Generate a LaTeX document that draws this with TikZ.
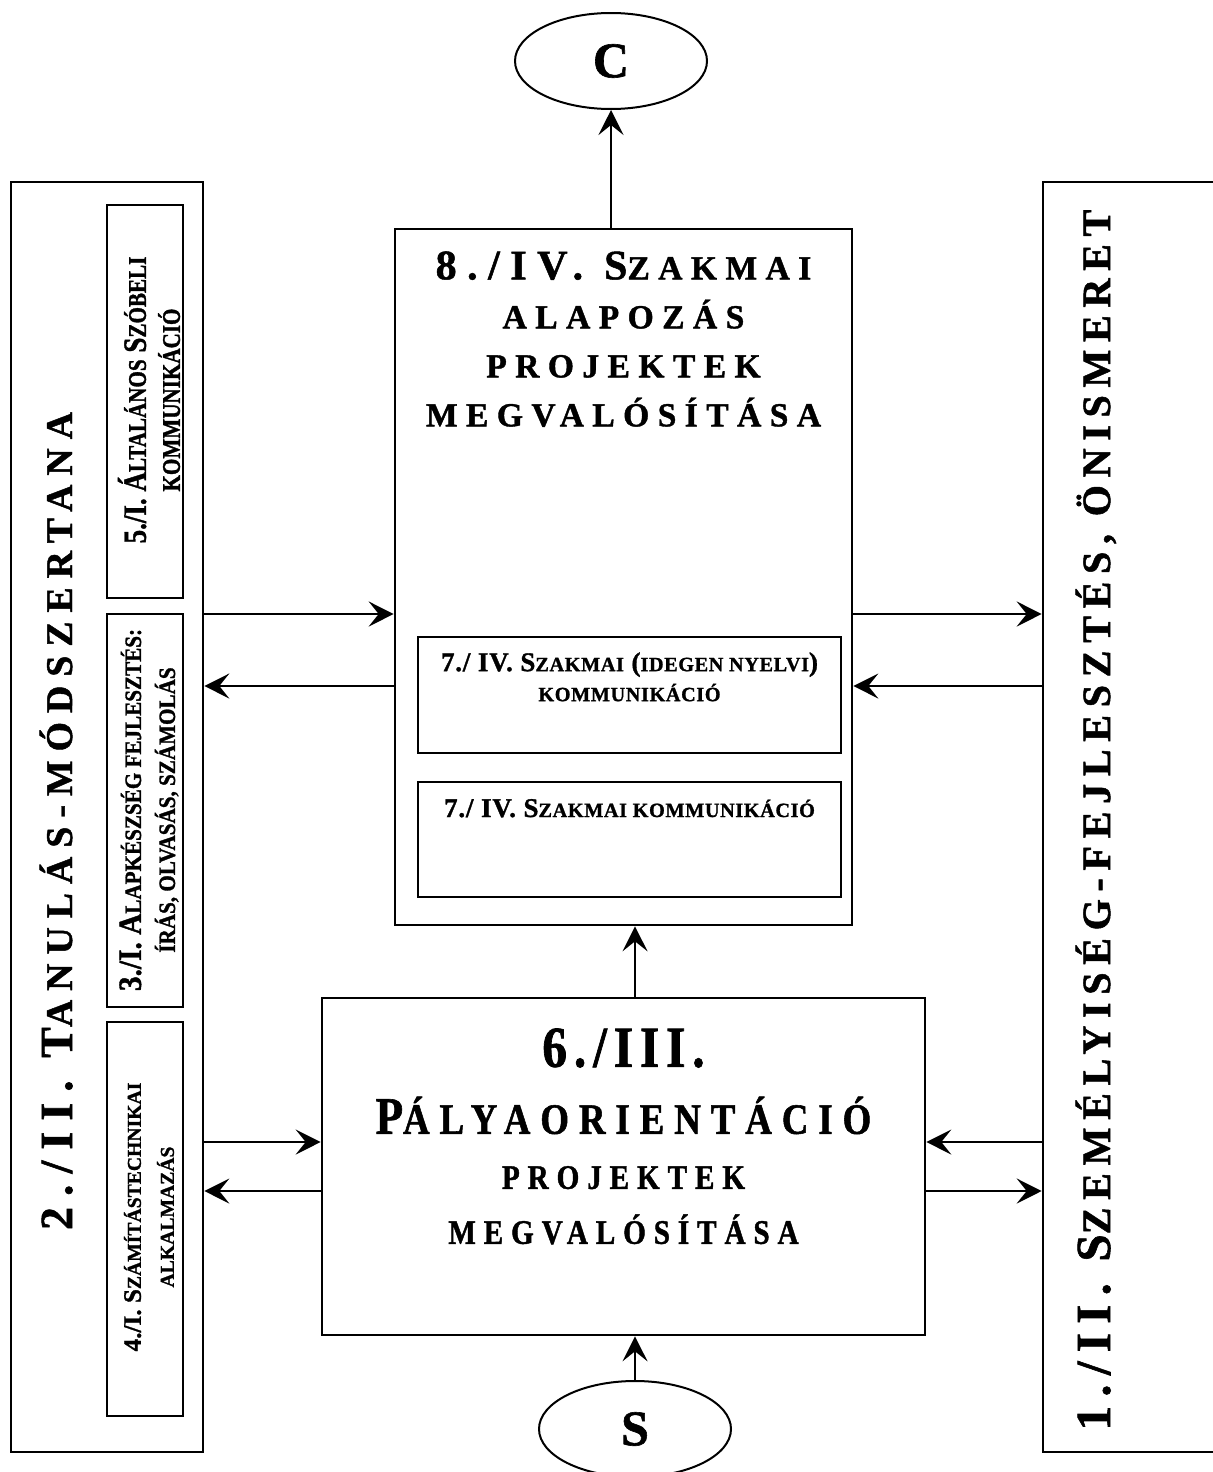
\documentclass[tikz,border=0pt]{standalone}
\usepackage{fontspec}
\setmainfont{Liberation Serif}[BoldFeatures={FakeBold=1.2}]
\usepackage{tikz}
\usetikzlibrary{arrows.meta,positioning,calc,shapes,fit}

\makeatletter
\newcommand{\kis}[2][0.8]{{\fontsize{\fpeval{#1*\f@size}}{\f@baselineskip}\selectfont #2}}
\makeatother

\begin{document}
\begin{tikzpicture}[x=0.5pt,y=-0.5pt,
  doboz/.style={draw,line width=1.3pt,inner sep=0pt},
  kisdoboz/.style={draw,line width=1pt,inner sep=0pt},
  kor/.style={draw,ellipse,line width=1pt,minimum width=96pt,minimum height=48pt,
    inner sep=0pt,font=\bfseries\fontsize{25}{30}\selectfont},
  nyil/.style={-{Stealth[length=12.5pt,width=12.5pt,inset=5pt]},line width=1.2pt},
  cimke/.style={inner sep=0pt,align=center}]

  \useasboundingbox (0,0) rectangle (1213,1472);

  % side columns
  \node[doboz,fit={(11,182) (203,1452)}] (bal) {};
  \node[doboz,fit={(1043,182) (1240,1452)}] (jobb) {};
  \node[cimke,rotate=90,anchor=base,
    font=\bfseries\addfontfeature{LetterSpace=24}\fontsize{23}{28}\selectfont]
    (balcim) at (72,821) {2./II. T\kis[0.82]{ANULÁS-MÓDSZERTANA}};
  \node[cimke,rotate=90,anchor=base,
    font=\bfseries\addfontfeature{LetterSpace=19}\fontsize{24.5}{28}\selectfont]
    (jobbcim) at (1110,820) {1./II. S\kis[0.82]{ZEMÉLYISÉG-FEJLESZTÉS, ÖNISMERET}};

  % boxes inside the left column
  \node[kisdoboz,fit={(107,205) (183,598)}] (ot) {};
  \node[kisdoboz,fit={(107,614) (183,1007)}] (harom) {};
  \node[kisdoboz,fit={(107,1022) (183,1416)}] (negy) {};
  \node[cimke,rotate=90,
    font=\bfseries\addfontfeature{FakeStretch=0.83}\fontsize{16.3}{17}\selectfont]
    (otcim) at (149,400) {5./I. Á\kis[0.78]{LTALÁNOS} S\kis[0.78]{ZÓBELI}\\ \kis[0.78]{KOMMUNIKÁCIÓ}};
  \node[cimke,rotate=90,
    font=\bfseries\addfontfeature{FakeStretch=0.9}\fontsize{16.3}{17}\selectfont]
    (haromcim) at (149,810) {3./I. A\kis[0.72]{LAPKÉSZSÉG FEJLESZTÉS:}\\ \kis[0.72]{ÍRÁS, OLVASÁS, SZÁMOLÁS}};
  \node[cimke,rotate=90,font=\bfseries\fontsize{12.6}{16.5}\selectfont]
    (negycim) at (149,1217) {4./I. S\kis[0.78]{ZÁMÍTÁSTECHNIKAI}\\ \kis[0.78]{ALKALMAZÁS}};

  % 8./IV. box
  \node[doboz,fit={(395,229) (852,925)}] (nyolc) {};
  \node[cimke,anchor=north,
    font=\bfseries\addfontfeature{LetterSpace=25}\fontsize{21}{24.5}\selectfont]
    (nyolccim) at (623.5,251) {8./IV. S\kis{ZAKMAI}\\ \kis{ALAPOZÁS}\\ \kis{PROJEKTEK}\\ \kis{MEGVALÓSÍTÁSA}};
  \node[doboz,fit={(418,637) (841,753)}] (het1) {};
  \node[cimke,anchor=north,
    font=\bfseries\addfontfeature{LetterSpace=3}\fontsize{13.5}{15}\selectfont]
    (het1cim) at (629.5,652) {7./ IV. S\kis[0.75]{ZAKMAI} (\kis[0.75]{IDEGEN NYELVI})\\ \kis[0.75]{KOMMUNIKÁCIÓ}};
  \node[doboz,fit={(418,782) (841,897)}] (het2) {};
  \node[cimke,anchor=base,
    font=\bfseries\addfontfeature{LetterSpace=3}\fontsize{13.5}{15}\selectfont]
    (het2cim) at (629.5,817) {7./ IV. S\kis[0.75]{ZAKMAI KOMMUNIKÁCIÓ}};

  % 6./III. box
  \node[doboz,fit={(322,998) (925,1335)}] (hat) {};
  \node[cimke,anchor=north,
    font=\bfseries\addfontfeatures{FakeStretch=0.85,LetterSpace=23}\fontsize{26.4}{27.5}\selectfont]
    (hatcim) at (623.5,1028) {{\fontsize{29}{30}\addfontfeature{LetterSpace=12}6./III.}\\[6pt]
      P\kis[0.82]{ÁLYAORIENTÁCIÓ}\\ \kis[0.65]{PROJEKTEK}\\ \kis[0.65]{MEGVALÓSÍTÁSA}};

  % C and S
  \node[kor] (C) at (611,61) {C};
  \node[kor] (S) at (635,1429) {S};

  % arrows
  \draw[nyil] (nyolc.north -| C) -- (C);
  \draw[nyil] (hat.north -| S) -- (nyolc.south -| S);
  \draw[nyil] (S) -- (hat.south -| S);
  \draw[nyil] (bal.east |- 0,614) -- (nyolc.west |- 0,614);
  \draw[nyil] (nyolc.west |- 0,686) -- (bal.east |- 0,686);
  \draw[nyil] (nyolc.east |- 0,614) -- (jobb.west |- 0,614);
  \draw[nyil] (jobb.west |- 0,686) -- (nyolc.east |- 0,686);
  \draw[nyil] (bal.east |- 0,1142) -- (hat.west |- 0,1142);
  \draw[nyil] (hat.west |- 0,1191) -- (bal.east |- 0,1191);
  \draw[nyil] (jobb.west |- 0,1142) -- (hat.east |- 0,1142);
  \draw[nyil] (hat.east |- 0,1191) -- (jobb.west |- 0,1191);

\end{tikzpicture}
\end{document}
